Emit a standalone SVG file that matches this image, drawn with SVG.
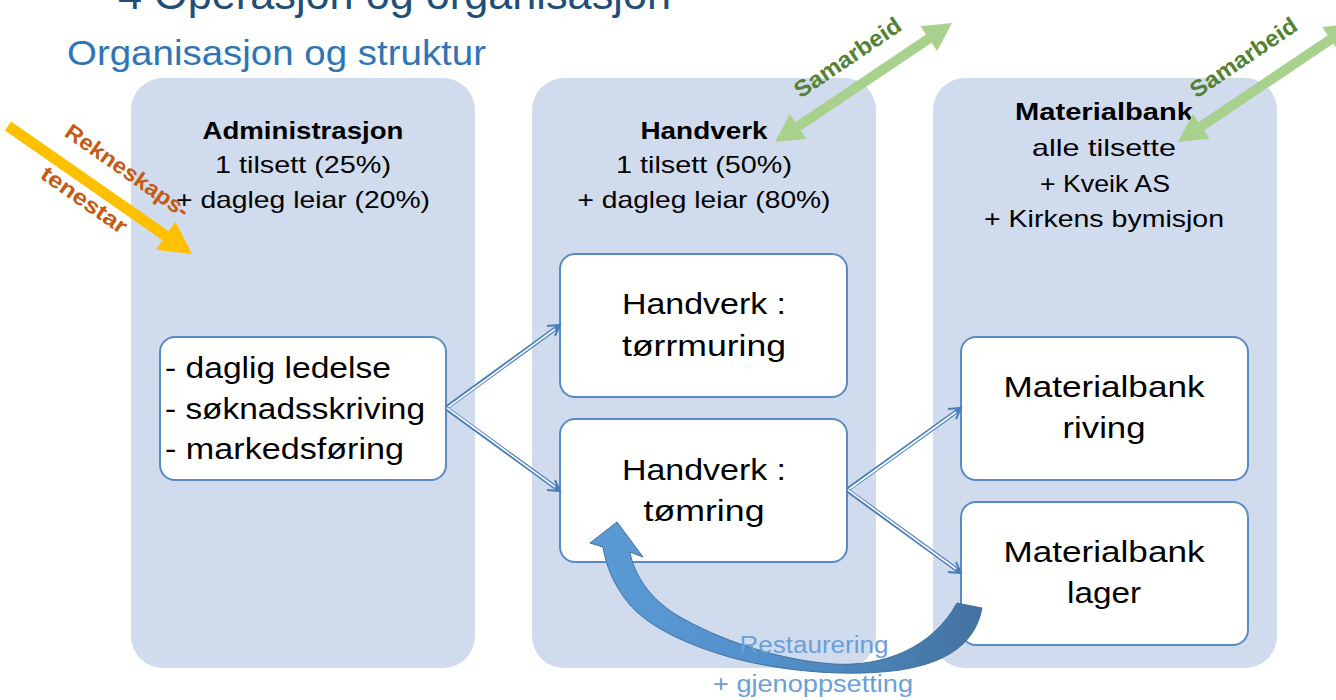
<svg xmlns="http://www.w3.org/2000/svg" width="1336" height="700" viewBox="0 0 1336 700">
<defs>
<style>
.t{font-family:"Liberation Sans",Arial,sans-serif;fill:#000}
.panel{fill:#D0DCEE}
.box{fill:#fff;stroke:#5A8AC6;stroke-width:2}
.hd{font-size:24px;text-anchor:middle}
.hb{font-size:24px;text-anchor:middle;font-weight:bold}
.bx{font-size:29px;text-anchor:middle}
.outer{fill:none;stroke:#4A7EBB;stroke-width:4.5}
.inner{fill:none;stroke:#fff;stroke-width:1.6}
.chev{fill:none;stroke:#4A7EBB;stroke-width:2}
.sam{font-family:"Liberation Sans",Arial,sans-serif;font-size:23px;font-weight:bold;fill:#548235;text-anchor:middle}
.rek{font-family:"Liberation Sans",Arial,sans-serif;font-size:22px;font-weight:bold;fill:#C55A11;text-anchor:middle}
</style>
<linearGradient id="cg" gradientUnits="userSpaceOnUse" x1="590" y1="0" x2="985" y2="0">
<stop offset="0" stop-color="#5B9BD5"/>
<stop offset="0.45" stop-color="#5290CB"/>
<stop offset="1" stop-color="#43729F"/>
</linearGradient>
</defs>

<text class="t" x="118" y="9" font-size="42" style="fill:#1F4E79" textLength="553" lengthAdjust="spacingAndGlyphs">4 Operasjon og organisasjon</text>
<text class="t" x="67" y="65" font-size="35" style="fill:#2E75B6" textLength="419" lengthAdjust="spacingAndGlyphs">Organisasjon og struktur</text>

<g id="panel-admin">
<rect class="panel" x="131" y="78" width="344" height="590" rx="32"/>
<text class="t hb" x="303" y="139" textLength="201" lengthAdjust="spacingAndGlyphs">Administrasjon</text>
<text class="t hd" x="303" y="173" textLength="176" lengthAdjust="spacingAndGlyphs">1 tilsett (25%)</text>
<text class="t hd" x="303" y="208" textLength="254" lengthAdjust="spacingAndGlyphs">+ dagleg leiar (20%)</text>
</g>
<g id="panel-handverk">
<rect class="panel" x="532" y="78" width="344" height="590" rx="32"/>
<text class="t hb" x="704" y="139" textLength="127" lengthAdjust="spacingAndGlyphs">Handverk</text>
<text class="t hd" x="704" y="173" textLength="176" lengthAdjust="spacingAndGlyphs">1 tilsett (50%)</text>
<text class="t hd" x="704" y="208" textLength="253" lengthAdjust="spacingAndGlyphs">+ dagleg leiar (80%)</text>
</g>
<g id="panel-materialbank">
<rect class="panel" x="933" y="78" width="344" height="590" rx="32"/>
<text class="t hb" x="1104" y="120" textLength="178" lengthAdjust="spacingAndGlyphs">Materialbank</text>
<text class="t hd" x="1104" y="156" textLength="144" lengthAdjust="spacingAndGlyphs">alle tilsette</text>
<text class="t hd" x="1105" y="192" textLength="130" lengthAdjust="spacingAndGlyphs">+ Kveik AS</text>
<text class="t hd" x="1104" y="227" textLength="240" lengthAdjust="spacingAndGlyphs">+ Kirkens bymisjon</text>
</g>

<g id="box-admin">
<rect class="box" x="160" y="337" width="286" height="143" rx="15"/>
<text class="t" font-size="29" x="165" y="378" textLength="226" lengthAdjust="spacingAndGlyphs">- daglig ledelse</text>
<text class="t" font-size="29" x="165" y="419" textLength="260" lengthAdjust="spacingAndGlyphs">- søknadsskriving</text>
<text class="t" font-size="29" x="165" y="459" textLength="239" lengthAdjust="spacingAndGlyphs">- markedsføring</text>
</g>
<g id="box-torrmuring">
<rect class="box" x="560" y="254" width="287" height="143" rx="15"/>
<text class="t bx" x="704" y="314" textLength="164" lengthAdjust="spacingAndGlyphs">Handverk :</text>
<text class="t bx" x="704" y="356" textLength="164" lengthAdjust="spacingAndGlyphs">tørrmuring</text>
</g>
<g id="box-tomring">
<rect class="box" x="560" y="419" width="287" height="143" rx="15"/>
<text class="t bx" x="704" y="480" textLength="164" lengthAdjust="spacingAndGlyphs">Handverk :</text>
<text class="t bx" x="704" y="521" textLength="121" lengthAdjust="spacingAndGlyphs">tømring</text>
</g>
<g id="box-riving">
<rect class="box" x="961" y="337" width="287" height="143" rx="15"/>
<text class="t bx" x="1104" y="397" textLength="201" lengthAdjust="spacingAndGlyphs">Materialbank</text>
<text class="t bx" x="1104" y="438" textLength="83" lengthAdjust="spacingAndGlyphs">riving</text>
</g>
<g id="box-lager">
<rect class="box" x="961" y="502" width="287" height="143" rx="15"/>
<text class="t bx" x="1104" y="562" textLength="201" lengthAdjust="spacingAndGlyphs">Materialbank</text>
<text class="t bx" x="1104" y="603" textLength="74" lengthAdjust="spacingAndGlyphs">lager</text>
</g>

<g id="connectors">
<path class="outer" d="M446,408 L559,326"/>
<path class="inner" d="M447,408 L555,329"/>
<path class="chev" d="M547,326 L560,325 L555,336"/>
<path class="outer" d="M446,408 L559,490"/>
<path class="inner" d="M447,408 L555,487"/>
<path class="chev" d="M555,480 L560,491 L547,490"/>
<path class="outer" d="M847,490 L960,409"/>
<path class="inner" d="M848,490 L956,412"/>
<path class="chev" d="M948,409 L961,408 L956,419"/>
<path class="outer" d="M847,490 L960,572"/>
<path class="inner" d="M848,490 L956,569"/>
<path class="chev" d="M956,562 L961,573 L948,572"/>

<polygon id="arrow-rekneskap" fill="#FFC000" points="11.1,121.5 168.8,231.2 175.4,221.7 192,254 156,249.7 162.6,240.2 4.9,130.5"/>
<polygon id="arrow-samarbeid-1" fill="#A9D18E" points="775,142 806.6,138.8 801,130.5 931.6,42.8 937.1,51.1 952,23 920.4,26.2 926,34.5 795.4,122.2 789.9,113.9"/>
<polygon id="arrow-samarbeid-2" fill="#A9D18E" points="1178,142 1209.6,138.8 1204,130.5 1333.4,43.6 1338.9,51.9 1353.8,23.8 1322.2,27 1327.8,35.3 1198.4,122.2 1192.9,113.9"/>
<path id="arrow-restaurering" fill="url(#cg)" stroke="#41719C" stroke-width="1" d="M982,608 C976,640 952,662 900,670 C850,677 785,672 733,658 C690,646 650,628 630,605 C614,586 606,566 603,547 L590,543 L617,522 L643,557 L630,552 C634,575 650,598 675,614 C720,641 780,660 833,664 C884,667 932,648 957,603 Z"/>
</g>

<text class="rek" transform="translate(123,177) rotate(35)" textLength="146" lengthAdjust="spacingAndGlyphs">Rekneskaps-</text>
<text class="rek" transform="translate(80,206) rotate(35)" textLength="100" lengthAdjust="spacingAndGlyphs">tenestar</text>
<text class="sam" transform="translate(852,64) rotate(-34)" textLength="124" lengthAdjust="spacingAndGlyphs">Samarbeid</text>
<text class="sam" transform="translate(1248,64) rotate(-34)" textLength="124" lengthAdjust="spacingAndGlyphs">Samarbeid</text>
<text font-family="'Liberation Sans',Arial,sans-serif" font-size="23" fill="#6B9FD6" text-anchor="middle" x="814" y="653" textLength="149" lengthAdjust="spacingAndGlyphs">Restaurering</text>
<text font-family="'Liberation Sans',Arial,sans-serif" font-size="23" fill="#6B9FD6" text-anchor="middle" x="813" y="692" textLength="200" lengthAdjust="spacingAndGlyphs">+ gjenoppsetting</text>
</svg>
